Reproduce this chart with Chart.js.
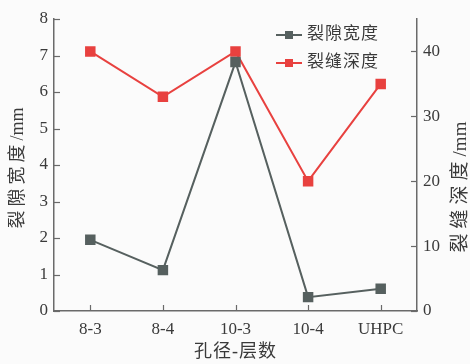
<!DOCTYPE html>
<html>
<head>
<meta charset="utf-8">
<script src="https://cdn.jsdelivr.net/npm/chart.js@4/dist/chart.umd.min.js"></script>
<style>
  html, body { margin: 0; padding: 0; background: #fbfbfb; }
  #wrap { width: 470px; height: 364px; position: relative; }
</style>
</head>
<body>
<div id="wrap"><canvas id="c" width="470" height="364"></canvas></div>
<script>
const categories = ['8-3', '8-4', '10-3', '10-4', 'UHPC'];
const crackWidth = [1.95, 1.12, 6.82, 0.38, 0.61];   // 裂隙宽度 (mm)
const crackDepth = [40, 33, 40, 20, 35];             // 裂缝深度 (mm)
const leftTicks = [0, 1, 2, 3, 4, 5, 6, 7, 8];
const rightTicks = [0, 10, 20, 30, 40];
const xTitle = '孔径-层数';
const leftTitle = ['裂隙宽度', '/mm'];
const rightTitle = ['裂缝深度', '/mm'];

const GRAY = '#56605f';
const RED = '#e8413f';
const AXIS = '#6a6a6a';
const TXT = '#3a3a3a';
const FONT = '"Liberation Serif", "Noto Sans CJK SC", serif';

// inward tick marks drawn on every axis
const innerTicks = {
  id: 'innerTicks',
  afterDatasetsDraw(chart) {
    const ctx = chart.ctx;
    const a = chart.chartArea;
    ctx.save();
    ctx.strokeStyle = AXIS;
    ctx.lineWidth = 1.2;
    const L = 6;
    const x = chart.scales.x, y = chart.scales.y, y1 = chart.scales.y1;
    x.ticks.forEach((t, i) => {
      const px = Math.round(x.getPixelForTick(i)) + 0.5;
      ctx.beginPath(); ctx.moveTo(px, a.bottom); ctx.lineTo(px, a.bottom - L); ctx.stroke();
    });
    y.ticks.forEach((t, i) => {
      const py = Math.round(y.getPixelForTick(i)) + 0.5;
      ctx.beginPath(); ctx.moveTo(a.left, py); ctx.lineTo(a.left + L, py); ctx.stroke();
    });
    y1.ticks.forEach((t, i) => {
      const py = Math.round(y1.getPixelForTick(i)) + 0.5;
      ctx.beginPath(); ctx.moveTo(a.right, py); ctx.lineTo(a.right - L, py); ctx.stroke();
    });
    ctx.restore();
  }
};

// vertical title: spaced CJK part followed by unit, read bottom-to-top
function drawVerticalTitle(ctx, parts, cx, cy, size, gap) {
  ctx.save();
  ctx.font = size + 'px ' + FONT;
  ctx.textBaseline = 'middle';
  ctx.textAlign = 'left';
  ctx.letterSpacing = gap + 'px';
  const w1 = ctx.measureText(parts[0]).width;
  ctx.letterSpacing = '0px';
  const w2 = ctx.measureText(parts[1]).width;
  ctx.translate(cx, cy);
  ctx.rotate(-Math.PI / 2);
  const start = -(w1 + w2) / 2;
  ctx.letterSpacing = gap + 'px';
  ctx.fillText(parts[0], start, 0);
  ctx.letterSpacing = '0px';
  ctx.fillText(parts[1], start + w1, 0);
  ctx.restore();
}

const axisTitles = {
  id: 'axisTitles',
  afterDraw(chart) {
    const ctx = chart.ctx;
    const a = chart.chartArea;
    ctx.save();
    ctx.fillStyle = TXT;
    ctx.textAlign = 'center';
    ctx.textBaseline = 'middle';
    ctx.font = '18px ' + FONT;
    ctx.letterSpacing = '1px';
    ctx.fillText(xTitle, (a.left + a.right) / 2, 352);
    ctx.restore();

    ctx.save();
    ctx.fillStyle = TXT;
    drawVerticalTitle(ctx, leftTitle, 18, 168, 18, 4);
    drawVerticalTitle(ctx, rightTitle, 461, 187, 19, 5);
    ctx.restore();
  }
};

// legend inside the plot, line + square marker
const innerLegend = {
  id: 'innerLegend',
  afterDraw(chart) {
    const ctx = chart.ctx;
    ctx.save();
    ctx.font = '17px ' + FONT;
    ctx.letterSpacing = '1px';
    ctx.textBaseline = 'middle';
    const x0 = 276, x1 = 302, rows = [35, 63];
    chart.data.datasets.forEach((ds, i) => {
      const yy = rows[i];
      ctx.strokeStyle = ds.borderColor;
      ctx.lineWidth = 2;
      ctx.beginPath(); ctx.moveTo(x0, yy); ctx.lineTo(x1, yy); ctx.stroke();
      ctx.fillStyle = ds.borderColor;
      ctx.fillRect((x0 + x1) / 2 - 4, yy - 4, 8, 8);
      ctx.fillStyle = TXT;
      ctx.fillText(ds.label, 307, yy);
    });
    ctx.restore();
  }
};

new Chart(document.getElementById('c'), {
  type: 'line',
  data: {
    labels: categories,
    datasets: [
      { label: '裂隙宽度', data: crackWidth, yAxisID: 'y', borderColor: GRAY, backgroundColor: GRAY,
        borderWidth: 2, pointStyle: 'rect', pointRadius: 6, pointHoverRadius: 6, tension: 0 },
      { label: '裂缝深度', data: crackDepth, yAxisID: 'y1', borderColor: RED, backgroundColor: RED,
        borderWidth: 2, pointStyle: 'rect', pointRadius: 6, pointHoverRadius: 6, tension: 0 }
    ]
  },
  options: {
    responsive: false,
    animation: false,
    devicePixelRatio: 1,
    layout: { padding: { top: 19, left: 0, right: 0, bottom: 0 } },
    plugins: { legend: { display: false }, tooltip: { enabled: false } },
    scales: {
      x: {
        offset: true,
        grid: { display: false, drawTicks: false },
        border: { display: true, color: AXIS, width: 1.5 },
        ticks: { color: TXT, font: { family: FONT, size: 17 }, padding: 8, maxRotation: 0 },
        title: { display: false },
        afterFit(s) { s.height = 53; }
      },
      y: {
        position: 'left',
        min: 0, max: 8,
        afterBuildTicks(s) { s.ticks = leftTicks.map(v => ({ value: v })); },
        grid: { display: false, drawTicks: false },
        border: { display: true, color: AXIS, width: 1.5 },
        ticks: { color: TXT, font: { family: FONT, size: 17 }, padding: 6 },
        title: { display: false },
        afterFit(s) { s.width = 54; }
      },
      y1: {
        position: 'right',
        min: 0, max: 45,
        afterBuildTicks(s) { s.ticks = rightTicks.map(v => ({ value: v })); },
        grid: { display: false, drawTicks: false },
        border: { display: true, color: AXIS, width: 1.5 },
        ticks: { color: TXT, font: { family: FONT, size: 17 }, padding: 6 },
        title: { display: false },
        afterFit(s) { s.width = 53; }
      }
    }
  },
  plugins: [innerTicks, axisTitles, innerLegend]
});
</script>
</body>
</html>
